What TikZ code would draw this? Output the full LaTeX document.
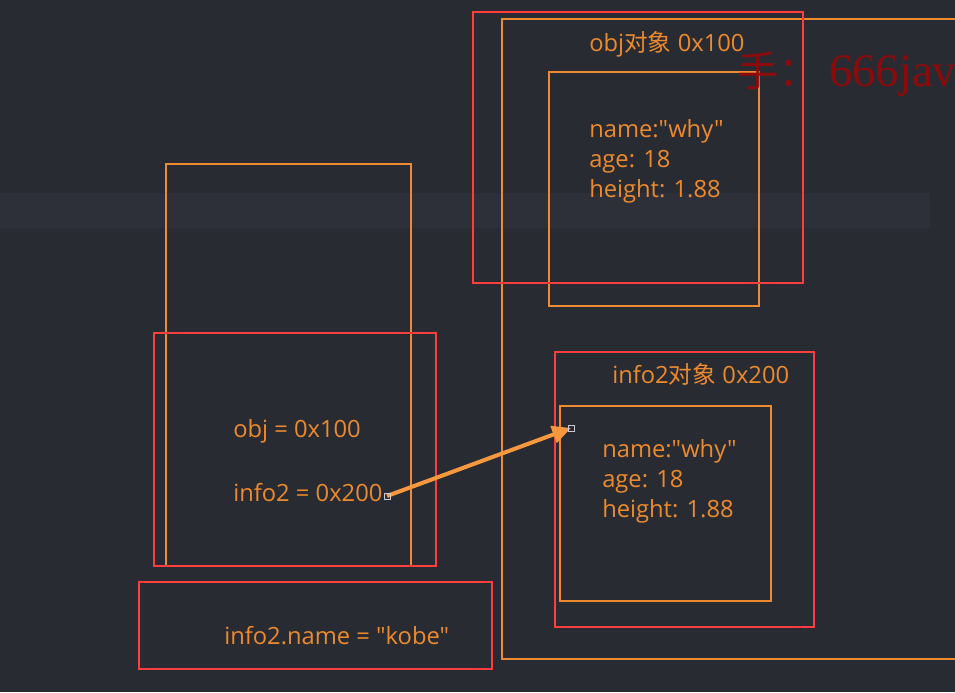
\documentclass[tikz,border=0pt]{standalone}
\usepackage{fontspec}
\setmainfont{Open Sans}[Ligatures=TeXOff]
\newfontfamily\cjk{Noto Sans CJK SC}
\newfontfamily\wmserif{Liberation Serif}
\usetikzlibrary{arrows.meta,calc}
\definecolor{bg}{HTML}{292B32}
\definecolor{bandc}{HTML}{2E3039}
\definecolor{orbox}{HTML}{F08A30}
\definecolor{ortext}{HTML}{EC8A2E}
\definecolor{redbox}{HTML}{FF3D3D}
\definecolor{arrowc}{HTML}{F7983F}
\definecolor{wmred}{HTML}{960808}
\definecolor{handle}{HTML}{C8CCD8}
\tikzset{
  obox/.style={draw=orbox, line width=1.5pt},
  rbox/.style={draw=redbox, line width=2.2pt},
  lbl/.style={text=ortext, inner sep=0pt, anchor=base west, font=\fontsize{17.8}{21}\selectfont},
  wm/.style={text=wmred, inner sep=0pt, anchor=base west, opacity=0.9},
  ptr/.style={draw=arrowc, line width=3pt, -{Triangle[length=14pt,width=13pt]}},
  hdl/.style={draw=handle, line width=0.6pt}
}
\begin{document}
\begin{tikzpicture}[x=0.75pt,y=-0.75pt]
\useasboundingbox (0,0) rectangle (955,692);
\clip (0,0) rectangle (955,692);
\fill[bg] (0,0) rectangle (955,692);
\fill[bandc] (0,193) rectangle (930,228);
% object boxes
\draw[obox] (502,19) rectangle (990,659);
\draw[obox] (549,72) rectangle (759,306);
\draw[obox] (560,406) rectangle (771,601);
% stack box
\draw[obox] (166,164) rectangle (411,566);
% highlight boxes
\draw[rbox] (473,12) rectangle (803,283);
\draw[rbox] (154,333) rectangle (436,566);
\draw[rbox] (555,352) rectangle (814,627);
\draw[rbox] (139,582) rectangle (492,669);
% texts
\node[lbl] (objtitle) at (589,52) {obj{\cjk 对象} 0x100};
\node[lbl] (objname) at (589,137) {name:"why"};
\node[lbl] (objage) at (589,167) {age: 18};
\node[lbl] (objheight) at (589,197) {height: 1.88};
\node[lbl] (infotitle) at (612,383) {info2{\cjk 对象} 0x200};
\node[lbl] (infoname) at (602,457) {name:"why"};
\node[lbl] (infoage) at (602,487) {age: 18};
\node[lbl] (infoheight) at (602,517) {height: 1.88};
\node[lbl] (objvar) at (233,437) {obj = 0x100};
\node[lbl] (infovar) at (233,501) {info2 = 0x200};
\node[lbl] (assign) at (224,644) {info2.name = "kobe"};
% watermark
\node[wm, font=\cjk\fontsize{31}{34}\selectfont] (wm1) at (737,86) {手：};
\node[wm, font=\wmserif\fontsize{35}{38}\selectfont] (wm2) at (829,86) {666java};
% pointer
\coordinate (pstart) at (387,496);
\coordinate (pend) at (571,428);
\draw[ptr] (pstart) -- (pend);
\draw[hdl] ($(pstart)+(-3,-3)$) rectangle ($(pstart)+(3,3)$);
\draw[hdl] ($(pend)+(-3,-3)$) rectangle ($(pend)+(3,3)$);
\end{tikzpicture}
\end{document}
